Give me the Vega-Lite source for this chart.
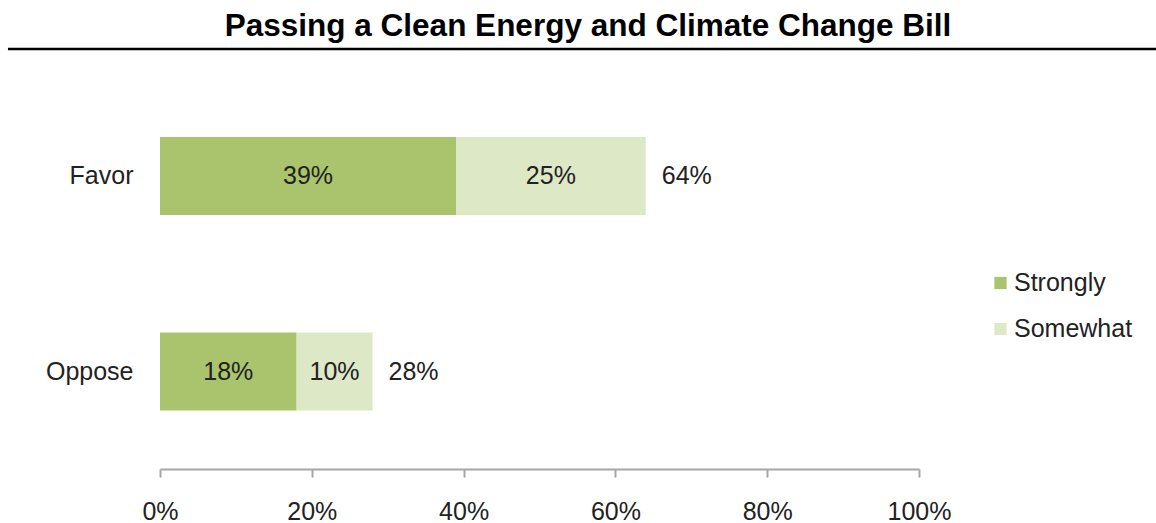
{
  "$schema": "https://vega.github.io/schema/vega-lite/v6.json",
  "autosize": {"type": "none"},
  "padding": {"left": 160, "top": 78.5, "right": 237, "bottom": 54},
  "width": 759,
  "height": 390.5,
  "background": "white",
  "title": {
    "text": "Passing a Clean Energy and Climate Change Bill",
    "font": "Liberation Sans",
    "fontSize": 31.5,
    "fontWeight": "bold",
    "color": "#000000",
    "anchor": "middle",
    "dx": 48.5,
    "offset": 5
  },
  "config": {
    "view": {"stroke": null},
    "font": "Liberation Sans"
  },
  "data": {
    "values": [
      {"response": "Favor", "level": "Strongly", "value": 0.39},
      {"response": "Favor", "level": "Somewhat", "value": 0.25},
      {"response": "Oppose", "level": "Strongly", "value": 0.18},
      {"response": "Oppose", "level": "Somewhat", "value": 0.10}
    ]
  },
  "encoding": {
    "y": {
      "field": "response",
      "type": "nominal",
      "sort": ["Favor", "Oppose"],
      "scale": {"paddingInner": 0.601, "paddingOuter": 0.299},
      "axis": {
        "title": null,
        "domain": false,
        "ticks": false,
        "tickSize": 0,
        "labelPadding": 27,
        "labelFontSize": 25,
        "labelColor": "#222222",
        "labelFont": "Liberation Sans"
      }
    }
  },
  "layer": [
    {
      "mark": {"type": "bar"},
      "encoding": {
        "x": {
          "field": "value",
          "type": "quantitative",
          "stack": "zero",
          "scale": {"domain": [0, 1], "nice": false},
          "axis": {
            "title": null,
            "values": [0, 0.2, 0.4, 0.6, 0.8, 1],
            "format": ".0%",
            "grid": false,
            "labelFlush": false,
            "labelOverlap": false,
            "domainColor": "#a6a6a6",
            "domainWidth": 2,
            "tickColor": "#a6a6a6",
            "tickWidth": 2,
            "tickSize": 8,
            "labelPadding": 22,
            "labelFontSize": 25,
            "labelColor": "#222222",
            "labelFont": "Liberation Sans"
          }
        },
        "color": {
          "field": "level",
          "type": "nominal",
          "scale": {"domain": ["Strongly", "Somewhat"], "range": ["#a9c46c", "#dde8c6"]},
          "legend": {
            "title": null,
            "orient": "none",
            "legendX": 828,
            "legendY": 192,
            "padding": 0,
            "symbolType": "square",
            "symbolSize": 150,
            "symbolStrokeWidth": 0,
            "labelFontSize": 25,
            "labelFont": "Liberation Sans",
            "labelColor": "#222222",
            "labelOffset": 1,
            "labelLimit": 400,
            "rowPadding": 20
          }
        },
        "order": {"field": "level", "sort": "descending"}
      }
    },
    {
      "mark": {"type": "text", "fontSize": 25, "color": "#222222", "font": "Liberation Sans"},
      "encoding": {
        "x": {"field": "value", "type": "quantitative", "stack": "zero", "bandPosition": 0.5},
        "detail": {"field": "level"},
        "order": {"field": "level", "sort": "descending"},
        "text": {"field": "value", "type": "quantitative", "format": ".0%"}
      }
    },
    {
      "mark": {"type": "text", "fontSize": 25, "color": "#222222", "font": "Liberation Sans", "align": "left", "dx": 16},
      "encoding": {
        "x": {"aggregate": "sum", "field": "value", "type": "quantitative"},
        "text": {"aggregate": "sum", "field": "value", "type": "quantitative", "format": ".0%"}
      }
    },
    {
      "data": {"values": [{}]},
      "mark": {"type": "rule", "color": "#000000", "strokeWidth": 2.5},
      "encoding": {
        "x": {"datum": -0.2003},
        "x2": {"datum": 1.3123},
        "y": {"value": -29.5}
      }
    }
  ]
}
